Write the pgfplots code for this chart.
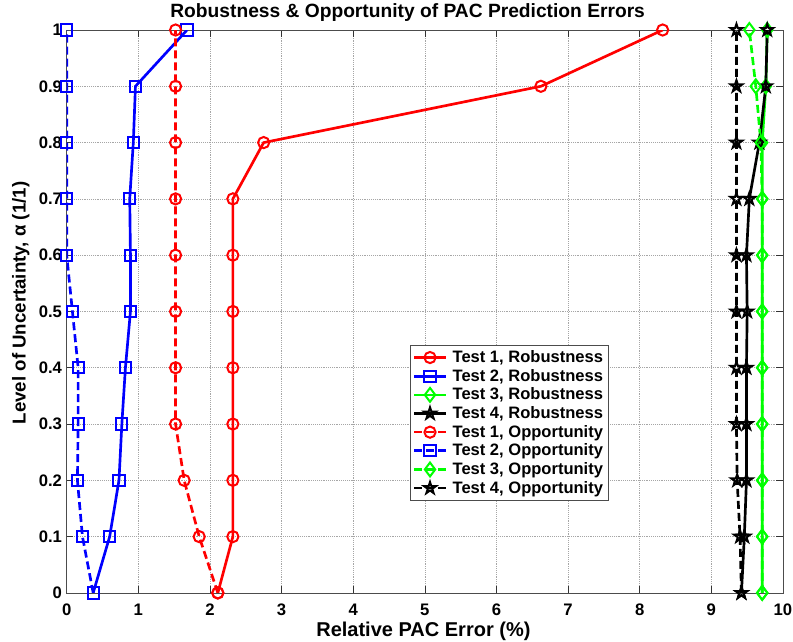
\documentclass[border=0pt]{standalone}
\usepackage{fontspec}
\setmainfont{Liberation Sans}
\usepackage{pgfplots}
\pgfplotsset{compat=1.18}
\usetikzlibrary{calc}
\pgfdeclareplotmark{pentagram}{%
\pgfpathmoveto{\pgfpointpolar{90}{\pgfplotmarksize}}%
\pgfpathlineto{\pgfpointpolar{126}{0.382\pgfplotmarksize}}%
\pgfpathlineto{\pgfpointpolar{162}{\pgfplotmarksize}}%
\pgfpathlineto{\pgfpointpolar{198}{0.382\pgfplotmarksize}}%
\pgfpathlineto{\pgfpointpolar{234}{\pgfplotmarksize}}%
\pgfpathlineto{\pgfpointpolar{270}{0.382\pgfplotmarksize}}%
\pgfpathlineto{\pgfpointpolar{306}{\pgfplotmarksize}}%
\pgfpathlineto{\pgfpointpolar{342}{0.382\pgfplotmarksize}}%
\pgfpathlineto{\pgfpointpolar{18}{\pgfplotmarksize}}%
\pgfpathlineto{\pgfpointpolar{54}{0.382\pgfplotmarksize}}%
\pgfpathclose\pgfusepathqstroke}
\definecolor{mred}{rgb}{1,0,0}
\definecolor{mblue}{rgb}{0,0,1}
\definecolor{mgreen}{rgb}{0,1,0}
\begin{document}
\begin{tikzpicture}
\begin{axis}[
  scale only axis,
  width=537pt, height=422pt,
  xmin=0, xmax=10, ymin=0, ymax=1,
  xtick={0,1,...,10},
  ytick={0,0.1,0.2,0.3,0.4,0.5,0.6,0.7,0.8,0.9,1},
  yticklabels={0,0.1,0.2,0.3,0.4,0.5,0.6,0.7,0.8,0.9,1},
  tick align=inside,
  major tick length=5pt,
  tick style={black!80, thin},
  grid=major,
  major grid style={densely dotted, gray!70, thin},
  axis line style={black!70, thin},
  /pgf/number format/assume math mode=true,
  tick label style={font=\fontsize{12.5}{14}\selectfont\bfseries},
  xticklabel style={anchor=base, yshift=-17pt},
  title={Robustness \& Opportunity of PAC Prediction Errors},
  every axis title shift=0pt,
  title style={font=\fontsize{14.4}{16}\selectfont\bfseries, at={(axis description cs:0.476,1)}, anchor=base, yshift=9.5pt},
  xlabel={Relative PAC Error (\%)},
  ylabel={Level of Uncertainty, α (1/1)},
  xlabel style={font=\fontsize{15}{17}\selectfont\bfseries, at={(axis description cs:0.498,0)}, anchor=base, yshift=-33pt},
  ylabel style={font=\fontsize{14}{16}\selectfont\bfseries, at={(axis description cs:-0.0454,0.515)}, anchor=south},
  every axis plot/.append style={line width=2pt, mark size=4.2pt, mark options={solid, line width=1.5pt}},
  legend style={at={(0.479,0.4405)}, anchor=north west, font=\fontsize{12.4}{13}\selectfont\bfseries, draw=black!70, inner sep=2pt, row sep=-0.5pt, column sep=2pt},
  legend cell align=left,
  legend image code/.code={\draw[mark repeat=2,mark phase=2] plot coordinates {(0cm,0cm)(0.42cm,0cm)(0.84cm,0cm)};},
]
% Test 1 Robustness
\addplot[mred, mark=o] coordinates {(2.11,0)(2.32,0.1)(2.32,0.2)(2.32,0.3)(2.32,0.4)(2.32,0.5)(2.32,0.6)(2.32,0.7)(2.75,0.8)(6.62,0.9)(8.32,1.0)};
\addlegendentry{Test 1, Robustness}
% Test 2 Robustness
\addplot[mblue, mark=square] coordinates {(0.37,0)(0.6,0.1)(0.73,0.2)(0.77,0.3)(0.82,0.4)(0.89,0.5)(0.89,0.6)(0.88,0.7)(0.93,0.8)(0.96,0.9)(1.68,1.0)};
\addlegendentry{Test 2, Robustness}
% Test 3 Robustness
\addplot[mgreen, mark=diamond, mark size=5.2pt] coordinates {(9.71,0)(9.71,0.1)(9.71,0.2)(9.71,0.3)(9.71,0.4)(9.71,0.5)(9.71,0.6)(9.71,0.7)(9.71,0.8)(9.76,0.9)(9.78,1.0)};
\addlegendentry{Test 3, Robustness}
% Test 4 Robustness
\addplot[black, mark=pentagram, mark size=4.6pt] coordinates {(9.42,0)(9.46,0.1)(9.49,0.2)(9.49,0.3)(9.49,0.4)(9.5,0.5)(9.49,0.6)(9.53,0.7)(9.67,0.8)(9.76,0.9)(9.78,1.0)};
\addlegendentry{Test 4, Robustness}
% Test 1 Opportunity
\addplot[mred, mark=o, dash pattern=on 6pt off 3pt] coordinates {(2.11,0)(1.85,0.1)(1.64,0.2)(1.52,0.3)(1.52,0.4)(1.52,0.5)(1.52,0.6)(1.52,0.7)(1.52,0.8)(1.52,0.9)(1.52,1.0)};
\addlegendentry{Test 1, Opportunity}
% Test 2 Opportunity
\addplot[mblue, mark=square, dash pattern=on 6pt off 3pt] coordinates {(0.37,0)(0.22,0.1)(0.15,0.2)(0.16,0.3)(0.16,0.4)(0.08,0.5)(0,0.6)(0,0.7)(0,0.8)(0,0.9)(0,1.0)};
\addlegendentry{Test 2, Opportunity}
% Test 3 Opportunity
\addplot[mgreen, mark=diamond, mark size=5.2pt, dash pattern=on 6pt off 3pt] coordinates {(9.71,0)(9.71,0.1)(9.71,0.2)(9.71,0.3)(9.71,0.4)(9.71,0.5)(9.71,0.6)(9.71,0.7)(9.69,0.8)(9.62,0.9)(9.53,1.0)};
\addlegendentry{Test 3, Opportunity}
% Test 4 Opportunity
\addplot[black, mark=pentagram, mark size=4.6pt, dash pattern=on 6pt off 3pt] coordinates {(9.42,0)(9.4,0.1)(9.36,0.2)(9.35,0.3)(9.35,0.4)(9.35,0.5)(9.35,0.6)(9.35,0.7)(9.35,0.8)(9.35,0.9)(9.35,1.0)};
\addlegendentry{Test 4, Opportunity}
\end{axis}
\pgfresetboundingbox
\path[use as bounding box] ($(current axis.south west)+(-50pt,-36.75pt)$) rectangle ($(current axis.north east)+(7.5pt,22.5pt)$);
\end{tikzpicture}
\end{document}
